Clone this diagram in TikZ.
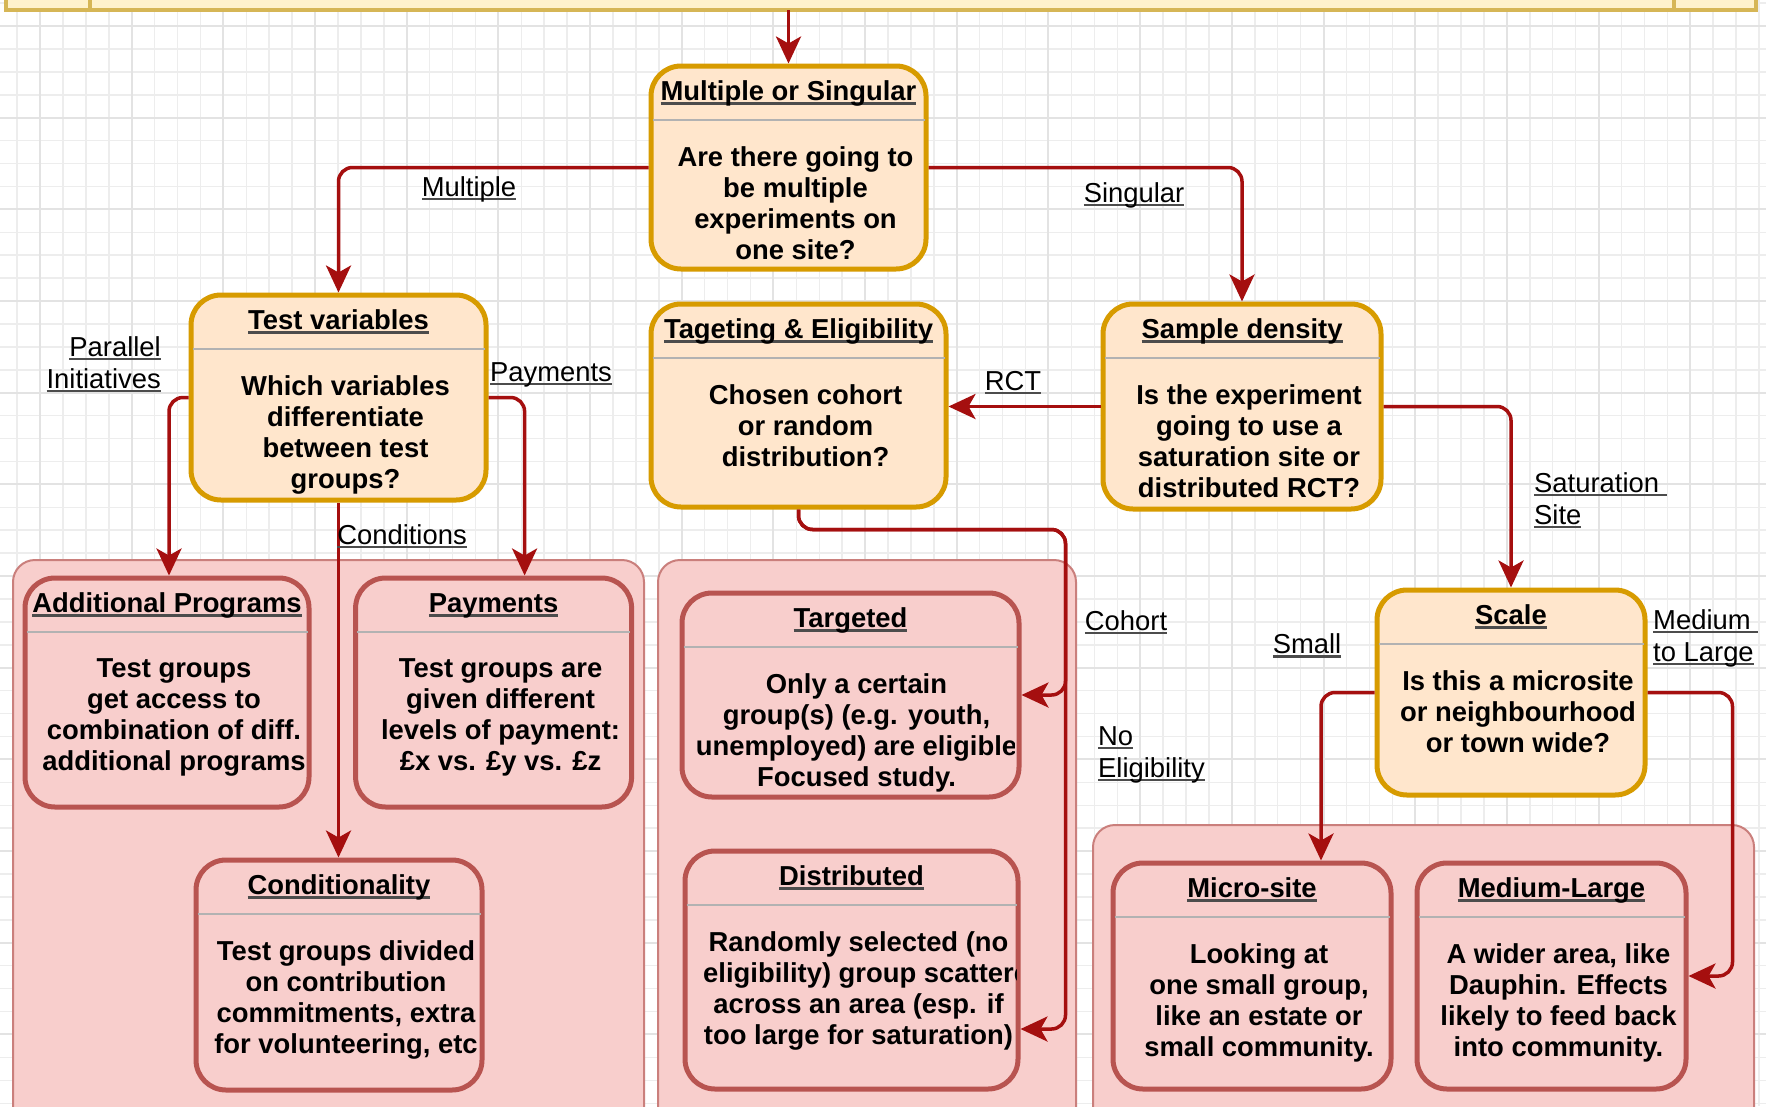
\documentclass[tikz,border=0pt]{standalone}
\usepackage{fontspec}
\setmainfont{Liberation Sans}
\usetikzlibrary{arrows.meta}

\definecolor{cardfill}{HTML}{FFE6CC}
\definecolor{carddraw}{HTML}{D79B00}
\definecolor{pinkfill}{HTML}{F8CECC}
\definecolor{pinkdraw}{HTML}{B85450}
\definecolor{edgered}{HTML}{A50F0F}
\definecolor{barfill}{HTML}{FFF2CC}
\definecolor{bardraw}{HTML}{D6B656}

\newcommand{\ulnote}[1]{\setbox0=\hbox{#1}\rlap{\color{black!70}\rule[-4pt]{\wd0}{2.5pt}}\box0}

\tikzset{
  question/.style={rectangle, rounded corners=30pt, draw=carddraw, fill=cardfill, line width=5pt},
  answer/.style={rectangle, rounded corners=30pt, draw=pinkdraw, fill=pinkfill, line width=5pt},
  groupbox/.style={draw=pinkdraw!75, fill=pinkfill, line width=2pt, rounded corners=22pt},
  head/.style={anchor=base, inner sep=0pt, font=\fontsize{27.4pt}{31pt}\selectfont\bfseries},
  body/.style={anchor=north, inner sep=0pt, align=center, font=\fontsize{27.4pt}{31pt}\selectfont\bfseries},
  sepline/.style={draw=black!30, line width=2pt},
  edge/.style={draw=edgered, line width=3.5pt, rounded corners=14pt, -{Stealth[length=27pt,width=25pt,inset=7pt]}},
  lbl/.style={inner sep=0pt, font=\fontsize{27.4pt}{32pt}\selectfont},
  gridminor/.style={draw=black!7, line width=1.5pt},
  gridmajor/.style={draw=black!11, line width=2pt},
}

\begin{document}
\begin{tikzpicture}[x=1pt, y=-1pt]
  \useasboundingbox (0,0) rectangle (1766,1106);
  \clip (0,0) rectangle (1766,1106);
  \fill[white] (0,0) rectangle (1766,1106);

  % grid
  \foreach \i in {0,...,76} \draw[gridminor] ({17.08+\i*22.92},0) -- ++(0,1106);
  \foreach \j in {0,...,48} \draw[gridminor] (0,{3.08+\j*22.92}) -- ++(1766,0);
  \foreach \i in {0,...,19} \draw[gridmajor] ({40+\i*91.68},0) -- ++(0,1106);
  \foreach \j in {0,...,11} \draw[gridmajor] (0,{26+\j*91.68}) -- ++(1766,0);

  % top bar
  \draw[draw=bardraw, fill=barfill, line width=4.5pt] (6,-30) rectangle (1756,10);
  \draw[draw=bardraw, line width=4.5pt] (90,-30) -- (90,10) (1674,-30) -- (1674,10);

  % groups
  \draw[groupbox] (13,560) rectangle (644,1140);
  \draw[groupbox] (658,560) rectangle (1076,1140);
  \draw[groupbox] (1093,825) rectangle (1754,1140);

  % questions
  \node[question, minimum width=275pt, minimum height=203pt] (mos) at (788.5,167.5) {};
  \node[head] (mos-head) at ([yshift=-37pt]mos.north) {\ulnote{Multiple or Singular}};
  \draw[sepline] ([xshift=4pt,yshift=-56pt]mos.north west) -- ([xshift=-4pt,yshift=-56pt]mos.north east);
  \node[body] (mos-text) at ([xshift=7pt,yshift=-83pt]mos.north) {Are there going to\\be multiple\\experiments on\\one site?};

  \node[question, minimum width=295pt, minimum height=205pt] (testvar) at (338.5,397.5) {};
  \node[head] (testvar-head) at ([yshift=-37pt]testvar.north) {\ulnote{Test variables}};
  \draw[sepline] ([xshift=4pt,yshift=-56pt]testvar.north west) -- ([xshift=-4pt,yshift=-56pt]testvar.north east);
  \node[body] (testvar-text) at ([xshift=7pt,yshift=-83pt]testvar.north) {Which variables\\differentiate\\between test\\groups?};

  \node[question, minimum width=295pt, minimum height=203pt] (tageting) at (798.5,405.5) {};
  \node[head] (tageting-head) at ([yshift=-37pt]tageting.north) {\ulnote{Tageting \& Eligibility}};
  \draw[sepline] ([xshift=4pt,yshift=-56pt]tageting.north west) -- ([xshift=-4pt,yshift=-56pt]tageting.north east);
  \node[body] (tageting-text) at ([xshift=7pt,yshift=-83pt]tageting.north) {Chosen cohort\\or random\\distribution?};

  \node[question, minimum width=278pt, minimum height=205pt] (sample) at (1242,406.5) {};
  \node[head] (sample-head) at ([yshift=-37pt]sample.north) {\ulnote{Sample density}};
  \draw[sepline] ([xshift=4pt,yshift=-56pt]sample.north west) -- ([xshift=-4pt,yshift=-56pt]sample.north east);
  \node[body] (sample-text) at ([xshift=7pt,yshift=-83pt]sample.north) {Is the experiment\\going to use a\\saturation site or\\distributed RCT?};

  \node[question, minimum width=268pt, minimum height=205pt] (scale) at (1511,692.5) {};
  \node[head] (scale-head) at ([yshift=-37pt]scale.north) {\ulnote{Scale}};
  \draw[sepline] ([xshift=4pt,yshift=-56pt]scale.north west) -- ([xshift=-4pt,yshift=-56pt]scale.north east);
  \node[body] (scale-text) at ([xshift=7pt,yshift=-83pt]scale.north) {Is this a microsite\\or neighbourhood\\or town wide?};

  % answers
  \node[answer, minimum width=284pt, minimum height=229pt] (addprog) at (167,692.5) {};
  \node[head] (addprog-head) at ([yshift=-37pt]addprog.north) {\ulnote{Additional Programs}};
  \draw[sepline] ([xshift=4pt,yshift=-56pt]addprog.north west) -- ([xshift=-4pt,yshift=-56pt]addprog.north east);
  \node[body] (addprog-text) at ([xshift=7pt,yshift=-83pt]addprog.north) {Test groups\\get access to\\combination of diff.\\additional programs};

  \node[answer, minimum width=276pt, minimum height=229pt] (payments) at (493.6,692.5) {};
  \node[head] (payments-head) at ([yshift=-37pt]payments.north) {\ulnote{Payments}};
  \draw[sepline] ([xshift=4pt,yshift=-56pt]payments.north west) -- ([xshift=-4pt,yshift=-56pt]payments.north east);
  \node[body] (payments-text) at ([xshift=7pt,yshift=-83pt]payments.north) {Test groups are\\given different\\levels of payment:\\£x vs. £y vs. £z};

  \node[answer, minimum width=286pt, minimum height=230pt] (cond) at (339,975) {};
  \node[head] (cond-head) at ([yshift=-37pt]cond.north) {\ulnote{Conditionality}};
  \draw[sepline] ([xshift=4pt,yshift=-56pt]cond.north west) -- ([xshift=-4pt,yshift=-56pt]cond.north east);
  \node[body] (cond-text) at ([xshift=7pt,yshift=-83pt]cond.north) {Test groups divided\\on contribution\\commitments, extra\\for volunteering, etc};

  \node[answer, minimum width=337pt, minimum height=204pt] (targeted) at (850.5,695) {};
  \node[head] (targeted-head) at ([yshift=-37pt]targeted.north) {\ulnote{Targeted}};
  \draw[sepline] ([xshift=4pt,yshift=-56pt]targeted.north west) -- ([xshift=-4pt,yshift=-56pt]targeted.north east);
  \begin{scope}
    \clip ([xshift=3pt]targeted.south west) rectangle ([xshift=-7pt]targeted.north east);
    \node[body] (targeted-text) at ([xshift=6pt,yshift=-83pt]targeted.north) {Only a certain\\group(s) (e.g. youth,\\unemployed) are eligible\\Focused study.};
  \end{scope}

  \node[answer, minimum width=333pt, minimum height=238pt] (distributed) at (851.5,970) {};
  \node[head] (distributed-head) at ([yshift=-37pt]distributed.north) {\ulnote{Distributed}};
  \draw[sepline] ([xshift=4pt,yshift=-56pt]distributed.north west) -- ([xshift=-4pt,yshift=-56pt]distributed.north east);
  \begin{scope}
    \clip ([xshift=3pt]distributed.south west) rectangle ([xshift=-4pt]distributed.north east);
    \node[body] (distributed-text) at ([xshift=7pt,yshift=-83pt]distributed.north) {Randomly selected (no\\eligibility) group scatter\rlap{ed}\\across an area (esp. if\\too large for saturation)};
  \end{scope}

  \node[answer, minimum width=278pt, minimum height=226pt] (micro) at (1252,976) {};
  \node[head] (micro-head) at ([yshift=-37pt]micro.north) {\ulnote{Micro-site}};
  \draw[sepline] ([xshift=4pt,yshift=-56pt]micro.north west) -- ([xshift=-4pt,yshift=-56pt]micro.north east);
  \node[body] (micro-text) at ([xshift=7pt,yshift=-83pt]micro.north) {Looking at\\one small group,\\like an estate or\\small community.};

  \node[answer, minimum width=269pt, minimum height=226pt] (medlarge) at (1551.5,976) {};
  \node[head] (medlarge-head) at ([yshift=-37pt]medlarge.north) {\ulnote{Medium-Large}};
  \draw[sepline] ([xshift=4pt,yshift=-56pt]medlarge.north west) -- ([xshift=-4pt,yshift=-56pt]medlarge.north east);
  \node[body] (medlarge-text) at ([xshift=7pt,yshift=-83pt]medlarge.north) {A wider area, like\\Dauphin. Effects\\likely to feed back\\into community.};

  % connectors
  \coordinate (entry) at (788.5,10);
  \draw[edge] (entry) -- (mos.north);
  \draw[edge] (mos.west) -| (testvar.north);
  \draw[edge] (mos.east) -| (sample.north);
  \draw[edge] (sample.west) -- (sample.west -| tageting.east);
  \draw[edge] (sample.east) -| (scale.north);
  \draw[edge] (scale.west) -| ([xshift=69pt]micro.north);
  \draw[edge] (scale.east) -- ++(85,0) |- (medlarge.east);
  \draw[edge] (testvar.west) -| ([xshift=2pt]addprog.north);
  \draw[edge] (testvar.east) -| ([xshift=31pt]payments.north);
  \draw[edge] (testvar.south) -- (testvar.south |- cond.north);
  \draw[edge] (tageting.south) -- ++(0,20) -| ([xshift=44pt]targeted.east) -- (targeted.east);
  \draw[edge] (tageting.south) -- ++(0,20) -| ([xshift=45pt,yshift=-59pt]distributed.east) -- ([yshift=-59pt]distributed.east);

  % connector labels
  \node[lbl, anchor=base] (l-multiple) at (469,196) {\ulnote{Multiple}};
  \node[lbl, anchor=base] (l-singular) at (1134,202) {\ulnote{Singular}};
  \node[lbl, anchor=base] (l-rct) at (1013,390) {\ulnote{RCT}};
  \node[lbl, anchor=north west, align=left] (l-saturation) at (1534,472) {\ulnote{Saturation\ }\\\ulnote{Site}};
  \node[lbl, anchor=base] (l-small) at (1307,653.5) {\ulnote{Small}};
  \node[lbl, anchor=north west, align=left] (l-medium) at (1653,609) {\ulnote{Medium\ }\\\ulnote{to Large}};
  \node[lbl, anchor=base] (l-cohort) at (1126,630) {\ulnote{Cohort}};
  \node[lbl, anchor=north west, align=left] (l-noelig) at (1098,726) {\ulnote{No}\\\ulnote{Eligibility}};
  \node[lbl, anchor=north east, align=right] (l-parallel) at (161,336) {\ulnote{Parallel}\\\ulnote{Initiatives}};
  \node[lbl, anchor=base] (l-payments) at (551,381) {\ulnote{Payments}};
  \node[lbl, anchor=base] (l-conditions) at (402,544) {\ulnote{Conditions}};
\end{tikzpicture}
\end{document}
